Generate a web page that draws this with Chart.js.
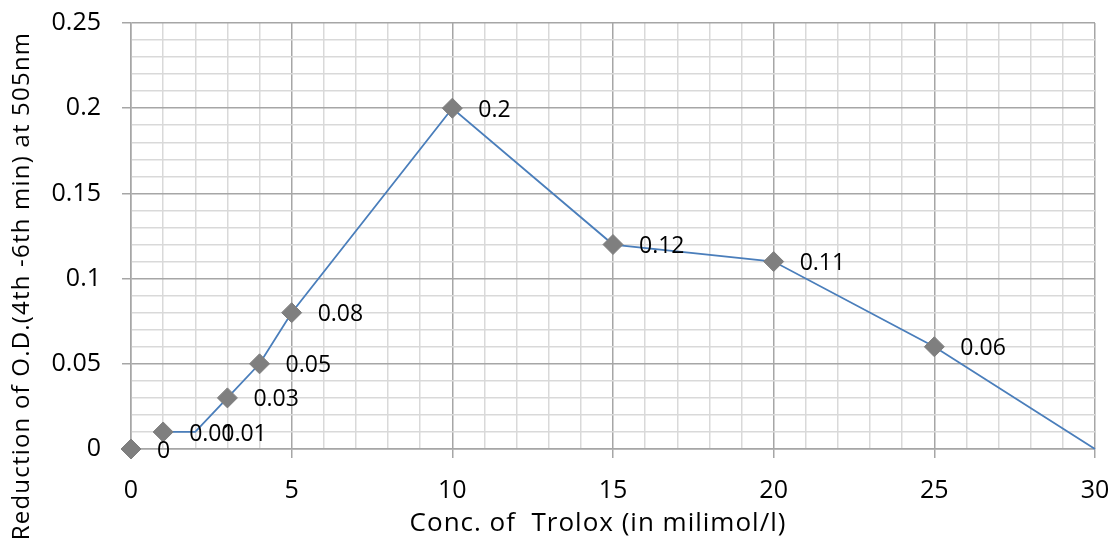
<!DOCTYPE html>
<html>
<head>
<meta charset="utf-8">
<script src="https://cdn.jsdelivr.net/npm/chart.js@4/dist/chart.umd.min.js"></script>
<style>
  body { margin: 0; background: #fff; }
  #wrap { width: 1115px; height: 543px; }
</style>
</head>
<body>
<div id="wrap"><canvas id="od-chart" width="1115" height="543"></canvas></div>
<script>
// Dados
const concTrolox = [0, 1, 2, 3, 4, 5, 10, 15, 20, 25, 30];
const reducaoOD = [0, 0.01, 0.01, 0.03, 0.05, 0.08, 0.2, 0.12, 0.11, 0.06, 0];
const rotulos = ['0', '0.01', '0.01', '0.03', '0.05', '0.08', '0.2', '0.12', '0.11', '0.06', ''];
const marcadorVisivel = [true, true, false, true, true, true, true, true, true, true, false];

const FONTE = '"Open Sans", "Noto Sans", sans-serif';
const corMenor = '#d9d9d9';
const corMaior = '#a6a6a6';

// Rótulos dos pontos (à direita do marcador)
const rotulosPlugin = {
    id: 'rotulos',
    afterDatasetsDraw(chart) {
        const ctx = chart.ctx;
        const meta = chart.getDatasetMeta(0);
        ctx.save();
        ctx.fillStyle = '#000';
        ctx.font = '23px ' + FONTE;
        ctx.textAlign = 'left';
        ctx.textBaseline = 'middle';
        meta.data.forEach((pt, i) => {
            if (rotulos[i]) ctx.fillText(rotulos[i], pt.x + 26, pt.y + 2);
        });
        ctx.restore();
    }
};

// Títulos dos eixos
const titulosPlugin = {
    id: 'titulos',
    afterDraw(chart) {
        const ctx = chart.ctx;
        ctx.save();
        ctx.fillStyle = '#000';
        ctx.textAlign = 'center';
        ctx.textBaseline = 'middle';
        ctx.letterSpacing = '1px';
        ctx.font = '26px ' + FONTE;
        ctx.fillText('Conc. of  Trolox (in milimol/l)', 598, 524);
        ctx.letterSpacing = '1.2px';
        ctx.font = '24px ' + FONTE;
        ctx.translate(22, 286);
        ctx.rotate(-Math.PI / 2);
        ctx.fillText('Reduction of O.D.(4th -6th min) at 505nm', 0, 0);
        ctx.restore();
    }
};

const ehMaiorX = v => Math.round(v) % 5 === 0;
const ehMaiorY = v => Math.round(v * 100) % 5 === 0;

new Chart(document.getElementById('od-chart'), {
    type: 'line',
    data: {
        datasets: [{
            data: concTrolox.map((x, i) => ({ x: x, y: reducaoOD[i] })),
            borderColor: '#4a7ebb',
            borderWidth: 1.8,
            fill: false,
            tension: 0,
            clip: false,
            pointStyle: 'rectRot',
            pointRadius: marcadorVisivel.map(v => v ? 10 : 0),
            pointHoverRadius: 0,
            pointBackgroundColor: '#7f7f7f',
            pointBorderColor: '#7f7f7f',
            pointBorderWidth: 1,
            segment: {
                borderColor: c => c.p0DataIndex === 0 ? 'rgba(0,0,0,0)' : '#4a7ebb'
            }
        }]
    },
    options: {
        responsive: false,
        animation: false,
        events: [],
        layout: { padding: { top: 23, right: 20, left: 0, bottom: 0 } },
        plugins: { legend: { display: false }, tooltip: { enabled: false } },
        scales: {
            x: {
                type: 'linear',
                min: 0,
                max: 30,
                afterFit: s => { s.height = 94; s.paddingLeft = 0; s.paddingRight = 0; },
                border: { color: corMaior, width: 1.5 },
                grid: {
                    color: c => ehMaiorX(c.tick.value) ? corMaior : corMenor,
                    tickColor: c => ehMaiorX(c.tick.value) ? corMaior : 'rgba(0,0,0,0)',
                    lineWidth: 1.5,
                    tickLength: 9
                },
                ticks: {
                    stepSize: 1,
                    autoSkip: false,
                    maxRotation: 0,
                    padding: 18,
                    color: '#000',
                    font: { family: FONTE, size: 25 },
                    callback: v => ehMaiorX(v) ? String(v) : ''
                }
            },
            y: {
                min: 0,
                max: 0.25,
                afterFit: s => { s.width = 131; s.paddingTop = 0; s.paddingBottom = 0; },
                border: { color: corMaior, width: 1.5 },
                grid: {
                    color: c => ehMaiorY(c.tick.value) ? corMaior : corMenor,
                    tickColor: c => ehMaiorY(c.tick.value) ? corMaior : 'rgba(0,0,0,0)',
                    lineWidth: 1.5,
                    tickLength: 9
                },
                ticks: {
                    stepSize: 0.01,
                    autoSkip: false,
                    padding: 21,
                    color: '#000',
                    font: { family: FONTE, size: 25 },
                    callback: v => ehMaiorY(v) ? String(+v.toFixed(2)) : ''
                }
            }
        }
    },
    plugins: [rotulosPlugin, titulosPlugin]
});
</script>
</body>
</html>
